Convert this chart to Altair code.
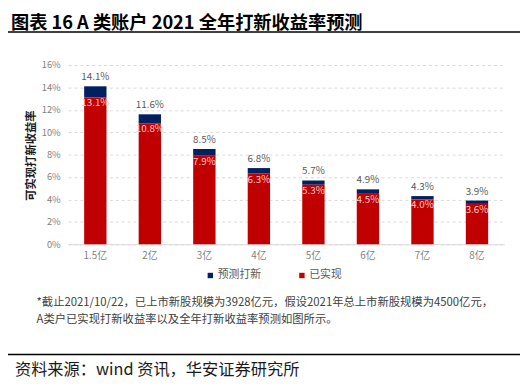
import altair as alt
import pandas as pd

categories = ["1.5亿", "2亿", "3亿", "4亿", "5亿", "6亿", "7亿", "8亿"]
total_rate = [14.1, 11.6, 8.5, 6.8, 5.7, 4.9, 4.3, 3.9]
realized_rate = [13.1, 10.8, 7.9, 6.3, 5.3, 4.5, 4.0, 3.6]
series_names = ["预测打新", "已实现"]
series_colors = ["#002060", "#C00000"]
y_ticks = [0, 2, 4, 6, 8, 10, 12, 14, 16]

title_text = "图表 16 A 类账户 2021 全年打新收益率预测"
y_title = "可实现打新收益率"
note_lines = [
    "*截止2021/10/22，已上市新股规模为3928亿元，假设2021年总上市新股规模为4500亿元，",
    "A类户已实现打新收益率以及全年打新收益率预测如图所示。",
]
source_text = "资料来源：wind 资讯，华安证券研究所"

FONT = "Noto Sans CJK SC"

rows = []
for c, t, r in zip(categories, total_rate, realized_rate):
    rows.append({"cat": c, "series": "预测打新", "lo": r, "hi": t})
    rows.append({"cat": c, "series": "已实现", "lo": 0.0, "hi": r})
bars_df = pd.DataFrame(rows)
lab_df = pd.DataFrame({"cat": categories, "total": total_rate, "realized": realized_rate})

x_scale = alt.Scale(domain=categories, paddingInner=0.59, paddingOuter=0.295)
x_axis = alt.Axis(
    labelAngle=0, labelFont=FONT, labelFontSize=10, labelColor="#7f7f7f",
    domainColor="#d9d9d9", ticks=False, labelPadding=7, grid=False,
)
y_scale = alt.Scale(domain=[0, 16], nice=False)
y_axis = alt.Axis(
    values=y_ticks, labelExpr="datum.value + '%'", labelOverlap=False,
    labelFont=FONT, labelFontSize=9.5, labelColor="#7f7f7f",
    domain=False, ticks=False, labelPadding=8, tickCount=9,
    gridColor="#d9d9d9", gridDash=[3, 3], gridWidth=1,
)

def xe():
    return alt.X("cat:N", sort=categories, title=None, scale=x_scale, axis=x_axis)

def ye(field):
    return alt.Y(field, scale=y_scale, title=None, axis=y_axis)

bars = alt.Chart(bars_df).mark_bar().encode(
    x=xe(),
    y=ye("hi:Q"),
    y2="lo:Q",
    color=alt.Color(
        "series:N",
        scale=alt.Scale(domain=series_names, range=series_colors),
        legend=alt.Legend(
            title=None, orient="none", direction="horizontal",
            legendX=139, legendY=208, symbolType="square", symbolSize=30,
            symbolStrokeWidth=0, labelFont=FONT, labelFontSize=11,
            labelColor="#595959", columnPadding=36, labelOffset=2, padding=0,
        ),
    ),
)

total_labels = alt.Chart(lab_df).transform_calculate(
    lbl="format(datum.total, '.1f') + '%'"
).mark_text(
    dy=-9, font=FONT, fontSize=10, color="#595959", baseline="middle"
).encode(x=xe(), y=ye("total:Q"), text="lbl:N")

real_labels = alt.Chart(lab_df).transform_calculate(
    lbl="format(datum.realized, '.1f') + '%'"
).mark_text(
    dy=1, font=FONT, fontSize=10, color="#FFC9C9", baseline="top"
).encode(x=xe(), y=ye("realized:Q"), text="lbl:N")

def text_layer(txt, x, y, size, color, weight="normal", angle=0, align="left"):
    return alt.Chart(pd.DataFrame({"t": [txt]})).mark_text(
        font=FONT, fontSize=size, color=color, fontWeight=weight,
        angle=angle, align=align, baseline="middle",
    ).encode(x=alt.value(x), y=alt.value(y), text="t:N")

title_layer = text_layer(title_text, -58, -42.5, 18.5, "#000000", weight="bold")
ytitle_layer = text_layer(y_title, -37, 92, 11.5, "#1a1a1a", weight="bold", angle=270, align="center")
note1 = text_layer(note_lines[0], -32, 241.5, 11.5, "#404040")
note2 = text_layer(note_lines[1], -32, 258.5, 11.5, "#404040")
source_layer = text_layer(source_text, -54, 309.5, 16.5, "#1a1a1a")

rule_df = pd.DataFrame({"k": [0]})
top_rule = alt.Chart(rule_df).mark_rule(color="#000000", strokeWidth=1.5).encode(
    x=alt.value(-61), x2=alt.value(459), y=alt.value(-33.5)
)
bottom_rule = alt.Chart(rule_df).mark_rule(color="#000000", strokeWidth=1.5).encode(
    x=alt.value(-61), x2=alt.value(459), y=alt.value(294)
)

chart = alt.layer(
    bars, total_labels, real_labels, title_layer, ytitle_layer,
    note1, note2, source_layer, top_rule, bottom_rule,
).properties(
    width=443, height=182,
    padding={"left": 61, "top": 55, "right": 16, "bottom": 137},
    autosize=alt.AutoSizeParams(type="none"),
    background="#ffffff",
).configure_view(stroke=None)

chart.save("out.html", embed_options={"renderer": "svg", "actions": False})
